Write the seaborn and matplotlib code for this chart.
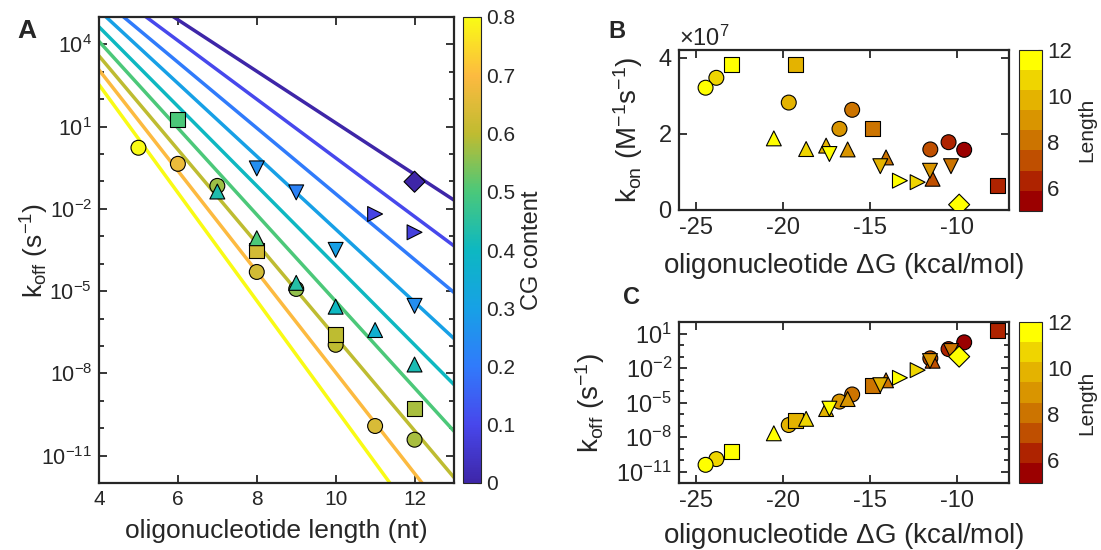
import numpy as np
import pandas as pd
import seaborn as sns
import matplotlib
matplotlib.use("Agg")
import matplotlib.pyplot as plt
from matplotlib import ticker
from matplotlib.colors import LinearSegmentedColormap, ListedColormap, Normalize
from matplotlib.cm import ScalarMappable

length = [5, 6, 7, 8, 9, 10, 11, 12,
          6, 8, 10, 12,
          7, 8, 9, 10, 11, 12,
          8, 9, 10, 12,
          11, 12,
          12]
shape = ["circle"] * 8 + ["square"] * 4 + ["up"] * 6 + ["down"] * 4 + ["right"] * 2 + ["diamond"]
cg = [0.80, 0.67, 0.57, 0.63, 0.56, 0.60, 0.64, 0.58,
      0.50, 0.63, 0.60, 0.58,
      0.43, 0.50, 0.44, 0.40, 0.36, 0.42,
      0.25, 0.22, 0.30, 0.25,
      0.09, 0.08,
      0.00]
koff = [1.7, 0.44, 0.069, 5.0e-5, 1.2e-5, 1.1e-7, 1.2e-10, 3.8e-11,
        18, 3.0e-4, 2.6e-7, 5.1e-10,
        0.043, 8.5e-4, 2.0e-5, 2.7e-6, 3.8e-7, 2.1e-8,
        0.30, 0.040, 3.2e-4, 2.9e-6,
        6.5e-3, 1.4e-3,
        0.098]
dG = [-9.58, -10.48, -11.53, -16.03, -16.76, -19.68, -23.85, -24.47,
      -7.67, -14.85, -19.31, -22.99,
      -11.40, -14.08, -16.29, -17.53, -18.68, -20.54,
      -10.34, -11.55, -14.41, -17.34,
      -12.26, -13.28,
      -9.87]
kon = [1.58, 1.78, 1.59, 2.63, 2.13, 2.82, 3.47, 3.21,
       0.64, 2.13, 3.82, 3.82,
       0.82, 1.38, 1.59, 1.69, 1.60, 1.88,
       1.15, 1.03, 1.15, 1.47,
       0.73, 0.77,
       0.14]  # x 1e7

# ---- model lines: log10(koff) at length 4 and length 13 for each CG content ----
line_cg = [0.0, 0.1, 0.2, 0.3, 0.4, 0.5, 0.6, 0.7, 0.8]
line_log_at4 = [6.78, 6.28, 5.75, 5.24, 4.64, 4.11, 3.58, 3.07, 2.53]
line_log_at13 = [-1.68, -3.35, -5.05, -6.73, -8.41, -10.11, -11.80, -13.49, -15.20]

# parula-like colormap
parula = LinearSegmentedColormap.from_list("parula", [
    (0.000, (0.243, 0.150, 0.660)),
    (0.125, (0.280, 0.280, 0.925)),
    (0.250, (0.190, 0.480, 0.985)),
    (0.375, (0.090, 0.630, 0.900)),
    (0.500, (0.050, 0.720, 0.760)),
    (0.625, (0.290, 0.785, 0.480)),
    (0.750, (0.750, 0.735, 0.190)),
    (0.875, (0.990, 0.730, 0.250)),
    (1.000, (0.977, 0.984, 0.081)),
])
len_cmap = ListedColormap(["#9b0000", "#ae2300", "#bf4f00", "#cc7400", "#d99500",
                           "#e4b300", "#efd500", "#ffff00"])

df = pd.DataFrame({"length": length, "shape": shape, "cg": cg, "koff": koff,
                   "dG": dG, "kon": np.array(kon) * 1e7})
lines = pd.DataFrame({
    "length": [4, 13] * len(line_cg),
    "cg": np.repeat(line_cg, 2),
    "koff": 10.0 ** np.ravel(np.column_stack([line_log_at4, line_log_at13])),
})
marker_map = {"circle": "o", "square": "s", "up": "^", "down": "v", "right": ">", "diamond": "D"}

sns.set_style("ticks")
plt.rcParams["font.family"] = ["Liberation Sans", "DejaVu Sans"]
plt.rcParams["mathtext.fontset"] = "custom"
plt.rcParams["mathtext.rm"] = "Liberation Sans"
plt.rcParams["mathtext.it"] = "Liberation Sans:italic"
plt.rcParams["mathtext.bf"] = "Liberation Sans:bold"
plt.rcParams["axes.unicode_minus"] = False

W, H = 1101, 550
fig = plt.figure(figsize=(W / 100, H / 100), dpi=100)


def box(x0, y0, x1, y1):
    return [x0 / W, 1 - y1 / H, (x1 - x0) / W, (y1 - y0) / H]


def style_axes(ax, xsize, ysize):
    for s in ax.spines.values():
        s.set_linewidth(1.6)
        s.set_color("#262626")
    ax.tick_params(which="both", direction="in", top=True, right=True,
                   color="#262626", width=1.3, pad=5)
    ax.tick_params(axis="x", labelsize=xsize)
    ax.tick_params(axis="y", labelsize=ysize)
    ax.tick_params(which="major", length=6)
    ax.tick_params(which="minor", length=3.5)


sc_kw = dict(style="shape", markers=marker_map, s=115, edgecolor="black",
             linewidth=0.8, legend=False, zorder=3)

# ---- panel A ----
axA = fig.add_axes(box(99, 17, 454, 483))
axA.set_yscale("log")
sns.lineplot(data=lines, x="length", y="koff", hue="cg", palette=parula,
             hue_norm=(0, 0.8), linewidth=2.5, legend=False, estimator=None, ax=axA)
sns.scatterplot(data=df, x="length", y="koff", hue="cg", palette=parula,
                hue_norm=(0, 0.8), ax=axA, **sc_kw)
axA.set_xlim(4, 13)
axA.set_ylim(1e-12, 1e5)
axA.set_xticks([4, 6, 8, 10, 12])
axA.yaxis.set_major_locator(ticker.FixedLocator([1e-11, 1e-8, 1e-5, 1e-2, 1e1, 1e4]))
axA.yaxis.set_major_formatter(ticker.LogFormatterMathtext())
axA.yaxis.set_minor_locator(ticker.FixedLocator([10.0 ** e for e in range(-12, 6)]))
axA.yaxis.set_minor_formatter(ticker.NullFormatter())
axA.set_xlabel("oligonucleotide length (nt)", fontsize=19, va="top")
axA.set_ylabel(r"k$_{\rm off}$ (s$^{-1}$)", fontsize=19, va="center")
axA.xaxis.set_label_coords(0.5, -0.078)
axA.yaxis.set_label_coords(-0.18, 0.5)
style_axes(axA, 15, 15.5)

caxA = fig.add_axes(box(463, 17, 481, 483))
cbA = fig.colorbar(ScalarMappable(Normalize(0, 0.8), parula), cax=caxA)
cbA.set_ticks([0, 0.1, 0.2, 0.3, 0.4, 0.5, 0.6, 0.7, 0.8])
cbA.ax.yaxis.set_major_formatter(ticker.FormatStrFormatter("%g"))
cbA.ax.tick_params(direction="in", length=3, labelsize=15)
cbA.outline.set_linewidth(0.8)
cbA.set_label("CG content", fontsize=17, labelpad=4)

# ---- panel B ----
axB = fig.add_axes(box(679, 50, 1009, 210))
sns.scatterplot(data=df, x="dG", y="kon", hue="length", palette=len_cmap,
                hue_norm=(5, 12), ax=axB, **sc_kw)
axB.set_xlim(-26, -7)
axB.set_ylim(0, 4.2e7)
axB.set_xticks([-25, -20, -15, -10])
axB.set_yticks([0, 2e7, 4e7])
fmt = ticker.ScalarFormatter(useMathText=True)
fmt.set_powerlimits((0, 0))
axB.yaxis.set_major_formatter(fmt)
axB.yaxis.get_offset_text().set_fontsize(17)
axB.set_xlabel(r"oligonucleotide $\Delta$G (kcal/mol)", fontsize=20, va="top")
axB.set_ylabel(r"k$_{\rm on}$ (M$^{-1}$s$^{-1}$)", fontsize=20, va="center")
axB.xaxis.set_label_coords(0.5, -0.255)
axB.yaxis.set_label_coords(-0.155, 0.5)
style_axes(axB, 17, 17)

# ---- panel C ----
axC = fig.add_axes(box(679, 322, 1009, 483))
axC.set_yscale("log")
sns.scatterplot(data=df, x="dG", y="koff", hue="length", palette=len_cmap,
                hue_norm=(5, 12), ax=axC, **sc_kw)
axC.set_xlim(-26, -7)
axC.set_ylim(1e-12, 1e2)
axC.set_xticks([-25, -20, -15, -10])
axC.yaxis.set_major_locator(ticker.FixedLocator([1e-11, 1e-8, 1e-5, 1e-2, 1e1]))
axC.yaxis.set_major_formatter(ticker.LogFormatterMathtext())
axC.yaxis.set_minor_locator(ticker.FixedLocator([10.0 ** e for e in range(-12, 3)]))
axC.yaxis.set_minor_formatter(ticker.NullFormatter())
axC.set_xlabel(r"oligonucleotide $\Delta$G (kcal/mol)", fontsize=20, va="top")
axC.set_ylabel(r"k$_{\rm off}$ (s$^{-1}$)", fontsize=20, va="center")
axC.xaxis.set_label_coords(0.5, -0.236)
axC.yaxis.set_label_coords(-0.27, 0.5)
style_axes(axC, 17, 17)

for (y0, y1) in [(50, 210.7), (322, 483)]:
    cax = fig.add_axes(box(1019, y0, 1042, y1))
    cb = fig.colorbar(ScalarMappable(Normalize(5, 12), len_cmap), cax=cax)
    cb.set_ticks([6, 8, 10, 12])
    cb.ax.tick_params(direction="in", length=3, labelsize=16)
    cb.outline.set_linewidth(0.8)
    cb.set_label("Length", fontsize=15, labelpad=4)

fig.text(27 / W, 1 - 31 / H, "A", fontsize=19, fontweight="bold", ha="center", va="center")
fig.text(617 / W, 1 - 32 / H, "B", fontsize=17, fontweight="bold", ha="center", va="center")
fig.text(631 / W, 1 - 297 / H, "C", fontsize=17, fontweight="bold", ha="center", va="center")

fig.savefig("out.png", dpi=100)
